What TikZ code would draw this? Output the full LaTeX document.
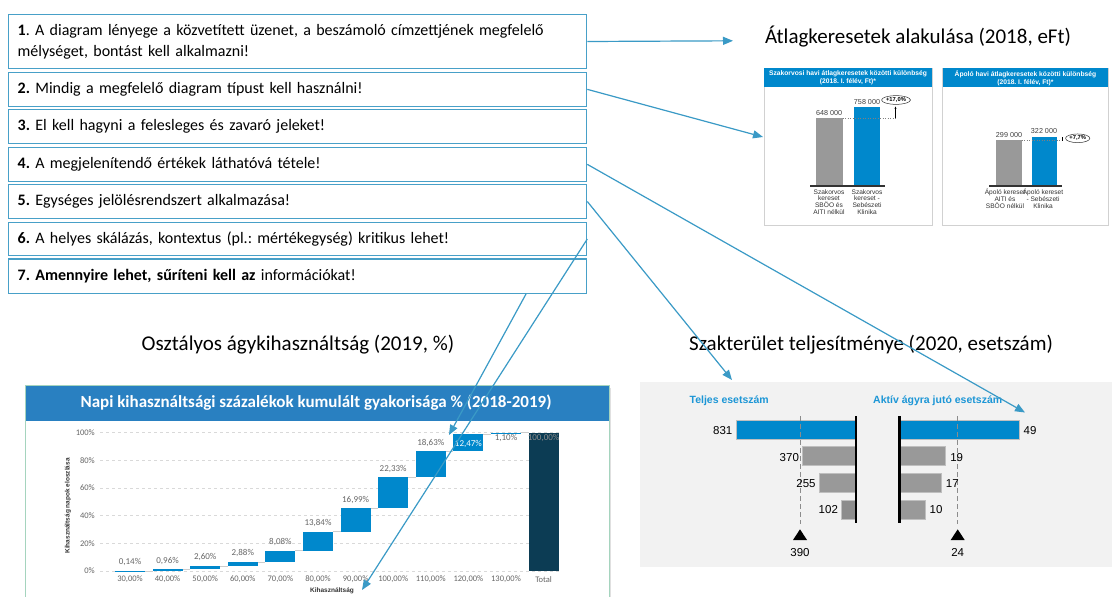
\documentclass[tikz,border=0pt]{standalone}
\usepackage{fontspec}
\setmainfont{Carlito}
\newfontfamily\arialf{Liberation Sans}
\usetikzlibrary{arrows.meta,calc,shapes.geometric}
\frenchspacing
\definecolor{linkblue}{RGB}{58,154,198}
\definecolor{boxblue}{RGB}{72,160,200}
\definecolor{barblue}{RGB}{0,136,204}
\definecolor{bargray}{RGB}{153,153,153}
\definecolor{hdrA}{RGB}{0,136,204}
\definecolor{hdrB}{RGB}{41,128,193}
\definecolor{navy}{RGB}{12,60,84}
\definecolor{panelgray}{RGB}{242,242,242}
\definecolor{lblblue}{RGB}{28,150,214}
\definecolor{greenframe}{RGB}{165,212,190}
\tikzset{
 listbox/.style={draw=boxblue, line width=1.3pt, anchor=north west, minimum width=578pt,
   text width=560pt, align=left, inner xsep=9pt, inner ysep=0pt, font=\frenchspacing\fontsize{16}{21}\selectfont},
 link/.style={draw=linkblue, line width=1.2pt, -{Triangle[length=10pt,width=8pt]}},
 bigtitle/.style={font=\fontsize{21}{24}\selectfont, inner sep=0pt},
 panelframe/.style={draw=black!18, line width=0.8pt, fill=white},
 hdrtxt/.style={font=\arialf\bfseries\fontsize{6.7}{7.6}\selectfont, text=white, align=center, inner sep=0pt},
 valtxt/.style={font=\arialf\fontsize{7.2}{8}\selectfont, text=black!75, inner sep=0pt},
 cattxt/.style={font=\arialf\fontsize{6.6}{6.9}\selectfont, text=black!80, align=center, inner sep=0pt},
 pcttxt/.style={font=\arialf\bfseries\fontsize{5.8}{6.5}\selectfont, draw=black!80, line width=0.5pt, ellipse, inner xsep=0.3pt, inner ysep=0.6pt},
 axtxt/.style={font=\fontsize{8.5}{10}\selectfont, text=black!60, inner sep=0pt},
 wflab/.style={font=\fontsize{9}{10}\selectfont, text=black!60, inner sep=0pt},
 gridl/.style={draw=black!15, dashed, line width=0.5pt},
 hbar/.style={fill=bargray, draw=black!25, line width=0.8pt},
 hbarblue/.style={fill=barblue, draw=black!25, line width=0.8pt},
 numtxt/.style={font=\arialf\fontsize{11.5}{13}\selectfont, inner sep=0pt},
 seglab/.style={font=\arialf\bfseries\fontsize{10.5}{12}\selectfont, text=lblblue, inner sep=0pt},
}
\begin{document}
\begin{tikzpicture}[x=1pt,y=-1pt]
\useasboundingbox (0,0) rectangle (1112,597);
\fill[white] (0,0) rectangle (1112,597);

% ---------- list boxes ----------
\node[listbox, minimum height=53.7pt] (b1) at (8,14) {\textbf{1}. A diagram lényege a közvetített üzenet, a beszámoló címzettjének megfelelő\\mélységet, bontást kell alkalmazni!};
\node[listbox, minimum height=34pt] (b2) at (8,71.7) {\textbf{2.} Mindig a megfelelő diagram típust kell használni!};
\node[listbox, minimum height=34pt] (b3) at (8,109) {\textbf{3.} El kell hagyni a felesleges és zavaró jeleket!};
\node[listbox, minimum height=34pt] (b4) at (8,146.7) {\textbf{4.} A megjelenítendő értékek láthatóvá tétele!};
\node[listbox, minimum height=33.7pt] (b5) at (8,184) {\textbf{5.} Egységes jelölésrendszert alkalmazása!};
\node[listbox, minimum height=33.3pt] (b6) at (8,221.7) {\textbf{6.} A helyes skálázás, kontextus (pl.: mértékegység) kritikus lehet!};
\node[listbox, minimum height=34.4pt] (b7) at (8,258.3) {\textbf{7. Amennyire lehet, sűríteni kell az} információkat!};

% ---------- titles ----------
\node[bigtitle] (t1) at (918,37) {Átlagkeresetek alakulása (2018, eFt)};
\node[bigtitle] (t2) at (298,345) {Osztályos ágykihasználtság (2019, \%)};
\node[bigtitle] (t3) at (871,345) {Szakterület teljesítménye (2020, esetszám)};

% ---------- top-right chart 1 ----------
\draw[panelframe] (764,68) rectangle (932,225);
\fill[hdrA] (764,68) rectangle (932,87.3);
\node[hdrtxt] (h1) at (848,78) {Szakorvosi havi átlagkeresetek közötti különbség\\(2018. I. félév, Ft)*};
\fill[bargray] (815.7,118.3) rectangle (842.7,186);
\fill[barblue] (854,106.7) rectangle (880,186);
\draw[line width=1.3pt, black!80] (810,186) -- (885,186);
\node[valtxt] (v1) at (829.2,113) {648 000};
\node[valtxt] (v2) at (867,101.8) {758 000};
\draw[dotted, black!50, line width=0.5pt] (842.7,118.3) -- (895.5,118.3);
\draw[-{Latex[length=2.5pt,width=2.2pt]}, line width=0.7pt] (895.5,118.3) -- (895.5,106.2);
\node[pcttxt] (e1) at (896,100) {+17,0\%};
\node[cattxt] (c1) at (829,202) {Szakorvos\\kereset\\SBÖO és\\AITI nélkül};
\node[cattxt] (c2) at (867,202) {Szakorvos\\kereset -\\Sebészeti\\Klinika};

% ---------- top-right chart 2 ----------
\draw[panelframe] (942.7,68) rectangle (1108,225);
\fill[hdrA] (942.7,68) rectangle (1108,87.3);
\node[hdrtxt] (h2) at (1025.4,78) {Ápoló havi átlagkeresetek közötti különbség\\(2018. I. félév, Ft)*};
\fill[bargray] (995.7,140) rectangle (1021.7,186);
\fill[barblue] (1031.7,136.7) rectangle (1056.7,186);
\draw[line width=1.3pt, black!80] (989,186) -- (1061.7,186);
\node[valtxt] (v3) at (1009,134.8) {299 000};
\node[valtxt] (v4) at (1044,131.3) {322 000};
\draw[dotted, black!50, line width=0.5pt] (1021.7,140) -- (1062,140);
\draw[line width=1pt] (1062,140.5) -- (1062,136.5);
\node[pcttxt] (e2) at (1077.7,138.3) {+7,7\%};
\node[cattxt] (c3) at (1005,198.3) {Ápoló kereset\\AITI és\\SBÖO nélkül};
\node[cattxt] (c4) at (1043,198.3) {Ápoló kereset\\- Sebészeti\\Klinika};

% ---------- bottom-left waterfall ----------
\draw[draw=greenframe, line width=1pt, fill=white] (25.7,385.7) rectangle (609,610);
\draw[black!12, line width=1.5pt] (610.5,388) -- (610.5,610);
\fill[hdrB] (25.7,385.7) rectangle (609,420.7);
\node[font=\bfseries\fontsize{17}{20}\selectfont, text=white, inner sep=0pt] (wt) at (316,403) {Napi kihasználtsági százalékok kumulált gyakorisága \% (2018-2019)};
\foreach \k/\l in {0/0\%,1/20\%,2/40\%,3/60\%,4/80\%,5/100\%}{
  \draw[gridl] (100,571-27.66*\k) -- (560,571-27.66*\k);
  \node[axtxt, anchor=east] at (95,571-27.66*\k) {\l};
}
\node[font=\arialf\bfseries\fontsize{6.5}{8}\selectfont, text=black!80, rotate=90, inner sep=0pt] (yt) at (68,506) {Kihasználtság napok eloszlása};
\node[font=\arialf\bfseries\fontsize{6.5}{8}\selectfont, text=black!80, inner sep=0pt] (xt) at (332,591) {Kihasználtság};
\foreach \i/\a/\b/\lab/\cat in {0/0/0.14/{0,14\%}/{30,00\%},1/0.14/1.10/{0,96\%}/{40,00\%},2/1.10/3.70/{2,60\%}/{50,00\%},3/3.70/6.58/{2,88\%}/{60,00\%},4/6.58/14.66/{8,08\%}/{70,00\%},5/14.66/28.50/{13,84\%}/{80,00\%},6/28.50/45.49/{16,99\%}/{90,00\%},7/45.49/67.82/{22,33\%}/{100,00\%},8/67.82/86.45/{18,63\%}/{110,00\%}}{
  \fill[barblue] (115+37.6*\i,571-1.383*\a) rectangle (145+37.6*\i,571-1.383*\b);
  \draw[black!20, line width=0.6pt] (145+37.6*\i,571-1.383*\b) -- (152.6+37.6*\i,571-1.383*\b);
  \node[wflab] at (130+37.6*\i,571-1.383*\b-8.5) {\lab};
  \node[axtxt] at (130+37.6*\i,579.3) {\cat};
}
\fill[barblue] (115+37.6*9,571-1.383*86.45) rectangle (145+37.6*9,571-1.383*98.92);
\node[wflab, text=white] (l9) at (130+37.6*9,444) {12,47\%};
\node[axtxt] at (130+37.6*9,579.3) {120,00\%};
\draw[black!20, line width=0.6pt] (145+37.6*9,571-1.383*98.92) -- (152.6+37.6*9,571-1.383*98.92);
\fill[barblue] (115+37.6*10,571-1.383*98.92) rectangle (145+37.6*10,571-1.383*100.02);
\node[wflab] (l10) at (130+37.6*10,437.7) {1,10\%};
\node[axtxt] at (130+37.6*10,579.3) {130,00\%};
\draw[black!20, line width=0.6pt] (145+37.6*10,432.7) -- (152.6+37.6*10,432.7);
\fill[navy] (528.6,432.7) rectangle (558.6,571);
\node[wflab, text=black!45] (l11) at (543.6,437.7) {100,00\%};
\node[axtxt] at (543.6,579.3) {Total};

% ---------- bottom-right chart ----------
\fill[panelgray] (640,382.3) rectangle (1112,567.3);
\node[seglab] (s1) at (729.2,400.7) {Teljes esetszám};
\node[seglab] (s2) at (937.7,400.7) {Aktív ágyra jutó esetszám};
\draw[hbarblue] (736.7,420) rectangle (856,439);
\draw[hbar] (802.7,446.7) rectangle (856,465.7);
\draw[hbar] (819,473.3) rectangle (856,492.3);
\draw[hbar, fill=black!45] (841,500) rectangle (856,519.3);
\draw[hbarblue] (899.3,420) rectangle (1019.3,439);
\draw[hbar] (899.3,446.7) rectangle (945,465.7);
\draw[hbar] (899.3,473.3) rectangle (941.7,492.3);
\draw[hbar] (899.3,500) rectangle (925,519.3);
\draw[black!45, dashed, dash pattern=on 5pt off 3pt, line width=0.7pt] (800,416) -- (800,524);
\draw[black!45, dashed, dash pattern=on 5pt off 3pt, line width=0.7pt] (957.7,416) -- (957.7,524);
\draw[line width=2.6pt] (856,416) -- (856,523.3);
\draw[line width=2.6pt] (899.3,416) -- (899.3,523.3);
\node[numtxt] (n1) at (722.7,431) {831};
\node[numtxt] (n2) at (789.3,457.3) {370};
\node[numtxt] (n3) at (806,483.3) {255};
\node[numtxt] (n4) at (828.3,510) {102};
\node[numtxt] (n5) at (1030,431) {49};
\node[numtxt] (n6) at (956.7,457.3) {19};
\node[numtxt] (n7) at (952.3,483.3) {17};
\node[numtxt] (n8) at (936,510) {10};
\fill[black] (800,529.3) -- (807,540) -- (793,540) -- cycle;
\fill[black] (957.7,529.3) -- (964.7,540) -- (950.7,540) -- cycle;
\node[numtxt] (m1) at (800,552.7) {390};
\node[numtxt] (m2) at (957.7,552.7) {24};

% ---------- connectors ----------
\coordinate (a1) at (733,40.8);
\coordinate (a2) at (763,137);
\coordinate (a3) at (1025,412.5);
\coordinate (a4) at (732,380);
\coordinate (a5) at (362,590);
\coordinate (a6) at (449,435);
\draw[link] (b1.east) -- (a1);
\draw[link] (b2.east) -- (a2);
\draw[link] (b4.east) -- (a3);
\draw[link] (b5.east) -- (a4);
\draw[link] (b6.east) -- (a5);
\draw[link] ([xshift=518pt]b7.south west) -- (a6);
\end{tikzpicture}
\end{document}
